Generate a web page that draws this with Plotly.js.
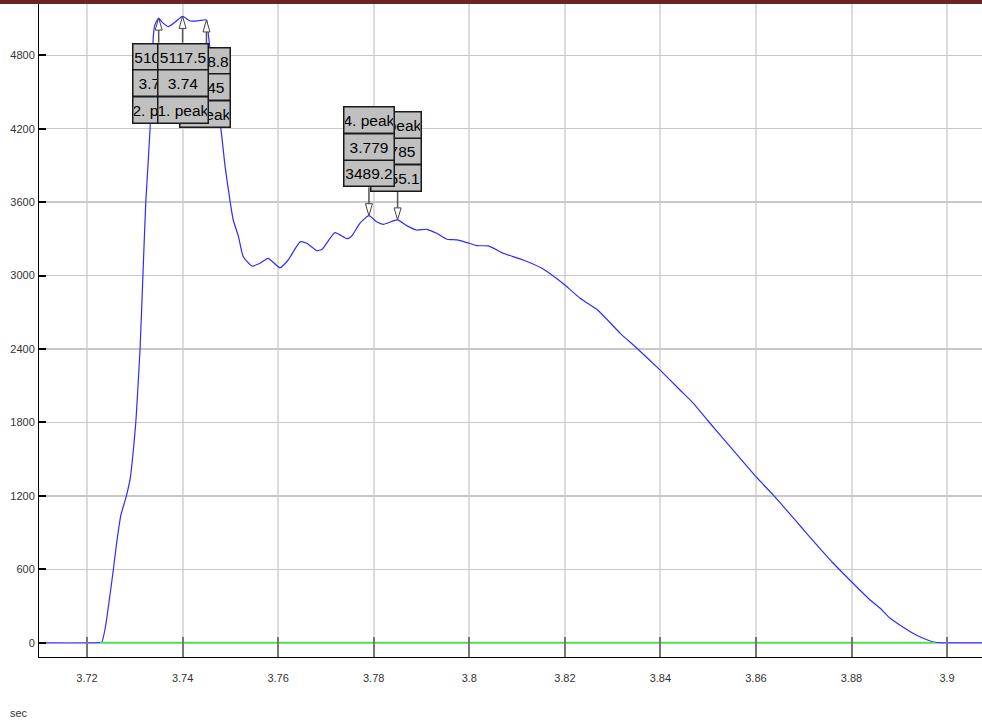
<!DOCTYPE html>
<html>
<head>
<meta charset="utf-8">
<script src="https://cdn.plot.ly/plotly-3.0.1.min.js"></script>
<style>
  html, body { margin: 0; padding: 0; background: #fff; }
  #chart { width: 982px; height: 722px; }
</style>
</head>
<body>
<div id="chart"></div>
<script>
// Signal trace: time (sec) and amplitude
const times = [
  3.700, 3.7227, 3.7231, 3.7238, 3.7255, 3.7262, 3.7271, 3.7282, 3.7291, 3.7297,
  3.7302, 3.7305, 3.7311, 3.7317, 3.7323, 3.7332, 3.7336, 3.7339, 3.7342, 3.735,
  3.7356, 3.737, 3.7384, 3.74, 3.7416, 3.7433, 3.745, 3.7454, 3.7462, 3.747,
  3.748, 3.7489, 3.7499, 3.7506, 3.7517, 3.7527, 3.7545, 3.7562, 3.7579, 3.7604,
  3.7621, 3.7646, 3.766, 3.7681, 3.7692, 3.7719, 3.7744, 3.7754, 3.7771, 3.779,
  3.7806, 3.782, 3.785, 3.7869, 3.789, 3.7911, 3.7932, 3.7953, 3.7974, 3.7995,
  3.8016, 3.804, 3.8071, 3.8113, 3.8152, 3.82, 3.8232, 3.8267, 3.8316, 3.8351,
  3.8399, 3.842, 3.8441, 3.8469, 3.8504, 3.8546, 3.86, 3.8636, 3.8685, 3.8706,
  3.8762, 3.88, 3.8839, 3.886, 3.8881, 3.8923, 3.895, 3.8975, 3.91
];
const amplitudes = [
  0, 0, 5, 118, 594, 815, 1044, 1193, 1357, 1575,
  1795, 1983, 2400, 3000, 3600, 4200, 4700, 4965, 5048, 5103.6,
  5075, 5034, 5070, 5117.5, 5080, 5082, 5088.8, 4966, 4700, 4400,
  4203, 3890, 3618, 3454, 3318, 3154, 3078, 3100, 3141, 3064,
  3127, 3275, 3264, 3203, 3215, 3351, 3301, 3323, 3427, 3489.2,
  3440, 3419, 3455.1, 3408, 3372, 3378, 3345, 3297, 3291, 3269,
  3244, 3242, 3182, 3127, 3059, 2923, 2814, 2724, 2528, 2406,
  2229, 2147, 2065, 1956, 1793, 1602, 1357, 1207, 989, 894,
  649, 498, 349, 281, 199, 90, 36, 3, 0
];

// Baseline segment (signal window)
const baselineTimes = [3.7227, 3.8975];
const baselineValues = [0, 0];

// Detected peaks
const peakNames = ['1. peak', '2. peak', '3. peak', '4. peak', '5. peak'];
const peakTimes = [3.74, 3.735, 3.745, 3.779, 3.785];
const peakValues = [5117.5, 5103.6, 5088.8, 3489.2, 3455.1];

// Axis ticks
const xTickVals = [3.72, 3.74, 3.76, 3.78, 3.8, 3.82, 3.84, 3.86, 3.88, 3.9];
const xTickText = ['3.72', '3.74', '3.76', '3.78', '3.8', '3.82', '3.84', '3.86', '3.88', '3.9'];
const yTickVals = [0, 600, 1200, 1800, 2400, 3000, 3600, 4200, 4800];
const yTickText = ['0', '600', '1200', '1800', '2400', '3000', '3600', '4200', '4800'];
const xUnit = 'sec';

// Label box placement per peak: side (-1 below, +1 above), x shift, distance of nearest cell
const boxPlacement = [
  { side: -1, dx: 0,  near: 40.2 },
  { side: -1, dx: -1, near: 38.5 },
  { side: -1, dx: -1, near: 41 },
  { side: 1,  dx: 0,  near: 42.4 },
  { side: 1,  dx: -2, near: 42.2 }
];
const drawOrder = [2, 1, 0, 4, 3];
const CELL_PITCH = 26.5;
const CELL_HALF = 14;
const TRI_H = 12, TRI_W = 3.5;

const shapes = [];
const annotations = [];

// top frame band
shapes.push({
  type: 'rect', xref: 'paper', yref: 'paper',
  x0: -39 / 943, x1: 1, y0: 1, y1: 1 + 4 / 653,
  fillcolor: '#6b2323', line: { width: 0 }, layer: 'above'
});

drawOrder.forEach(function (i) {
  const p = boxPlacement[i];
  const s = p.side;
  // stem from the marker base to the label box
  shapes.push({
    type: 'path', xref: 'x', yref: 'y',
    xsizemode: 'pixel', ysizemode: 'pixel',
    xanchor: peakTimes[i], yanchor: peakValues[i],
    path: 'M0,' + (s * TRI_H) + ' L0,' + (s * (p.near - CELL_HALF)),
    line: { color: '#555', width: 1.5 }, layer: 'above'
  });
  // hollow pointer triangle at the peak
  shapes.push({
    type: 'path', xref: 'x', yref: 'y',
    xsizemode: 'pixel', ysizemode: 'pixel',
    xanchor: peakTimes[i], yanchor: peakValues[i],
    path: 'M0,0 L' + (-TRI_W) + ',' + (s * TRI_H) + ' L' + TRI_W + ',' + (s * TRI_H) + ' Z',
    fillcolor: '#ffffff', line: { color: '#444', width: 1 }, layer: 'above'
  });
  const cells = [peakValues[i].toFixed(1), String(peakTimes[i]), peakNames[i]];
  cells.forEach(function (txt, k) {
    annotations.push({
      xref: 'x', yref: 'y', x: peakTimes[i], y: peakValues[i],
      xshift: p.dx, yshift: s * (p.near + k * CELL_PITCH),
      text: txt, showarrow: false,
      width: 48, height: 24, borderpad: 0.5, borderwidth: 1.5,
      bordercolor: '#1a1a1a', bgcolor: '#c0c0c0',
      align: 'center', valign: 'middle',
      xanchor: 'center', yanchor: 'middle',
      font: { family: 'Arial, "Liberation Sans", sans-serif', size: 15.5, color: '#000' }
    });
  });
});

annotations.push({
  xref: 'paper', yref: 'paper', x: 0, y: 0,
  xanchor: 'left', yanchor: 'middle', xshift: -31, yshift: -56,
  text: xUnit, showarrow: false,
  font: { family: 'Arial, "Liberation Sans", sans-serif', size: 11, color: '#333' }
});

const traces = [
  {
    x: times, y: amplitudes, type: 'scatter', mode: 'lines',
    line: { color: '#2c2cff', width: 1.2, shape: 'spline', smoothing: 0.5 },
    hoverinfo: 'skip'
  },
  {
    x: baselineTimes, y: baselineValues, type: 'scatter', mode: 'lines',
    line: { color: '#4fe04f', width: 2 }, hoverinfo: 'skip'
  }
];

const layout = {
  width: 982, height: 722,
  margin: { l: 39, r: 0, t: 4, b: 65 },
  paper_bgcolor: '#ffffff', plot_bgcolor: '#ffffff',
  showlegend: false,
  font: { family: 'Arial, "Liberation Sans", sans-serif', size: 11, color: '#333' },
  xaxis: {
    range: [3.70995, 3.90731],
    tickmode: 'array', tickvals: xTickVals, ticktext: xTickText,
    ticks: 'inside', ticklen: 20, tickwidth: 2, tickcolor: '#777',
    showgrid: true, gridcolor: '#dcdcdc', gridwidth: 2,
    showline: true, linecolor: '#000', linewidth: 1,
    zeroline: false, ticklabelstandoff: 11
  },
  yaxis: {
    range: [-117, 5219],
    tickmode: 'array', tickvals: yTickVals, ticktext: yTickText,
    ticks: 'inside', ticklen: 7, tickwidth: 2, tickcolor: '#000',
    showgrid: true, gridcolor: '#c8c8c8', gridwidth: 1.5,
    showline: true, linecolor: '#000', linewidth: 1,
    zeroline: false, ticklabelstandoff: 1
  },
  shapes: shapes,
  annotations: annotations
};

Plotly.newPlot('chart', traces, layout, { staticPlot: true, displayModeBar: false });
</script>
</body>
</html>
